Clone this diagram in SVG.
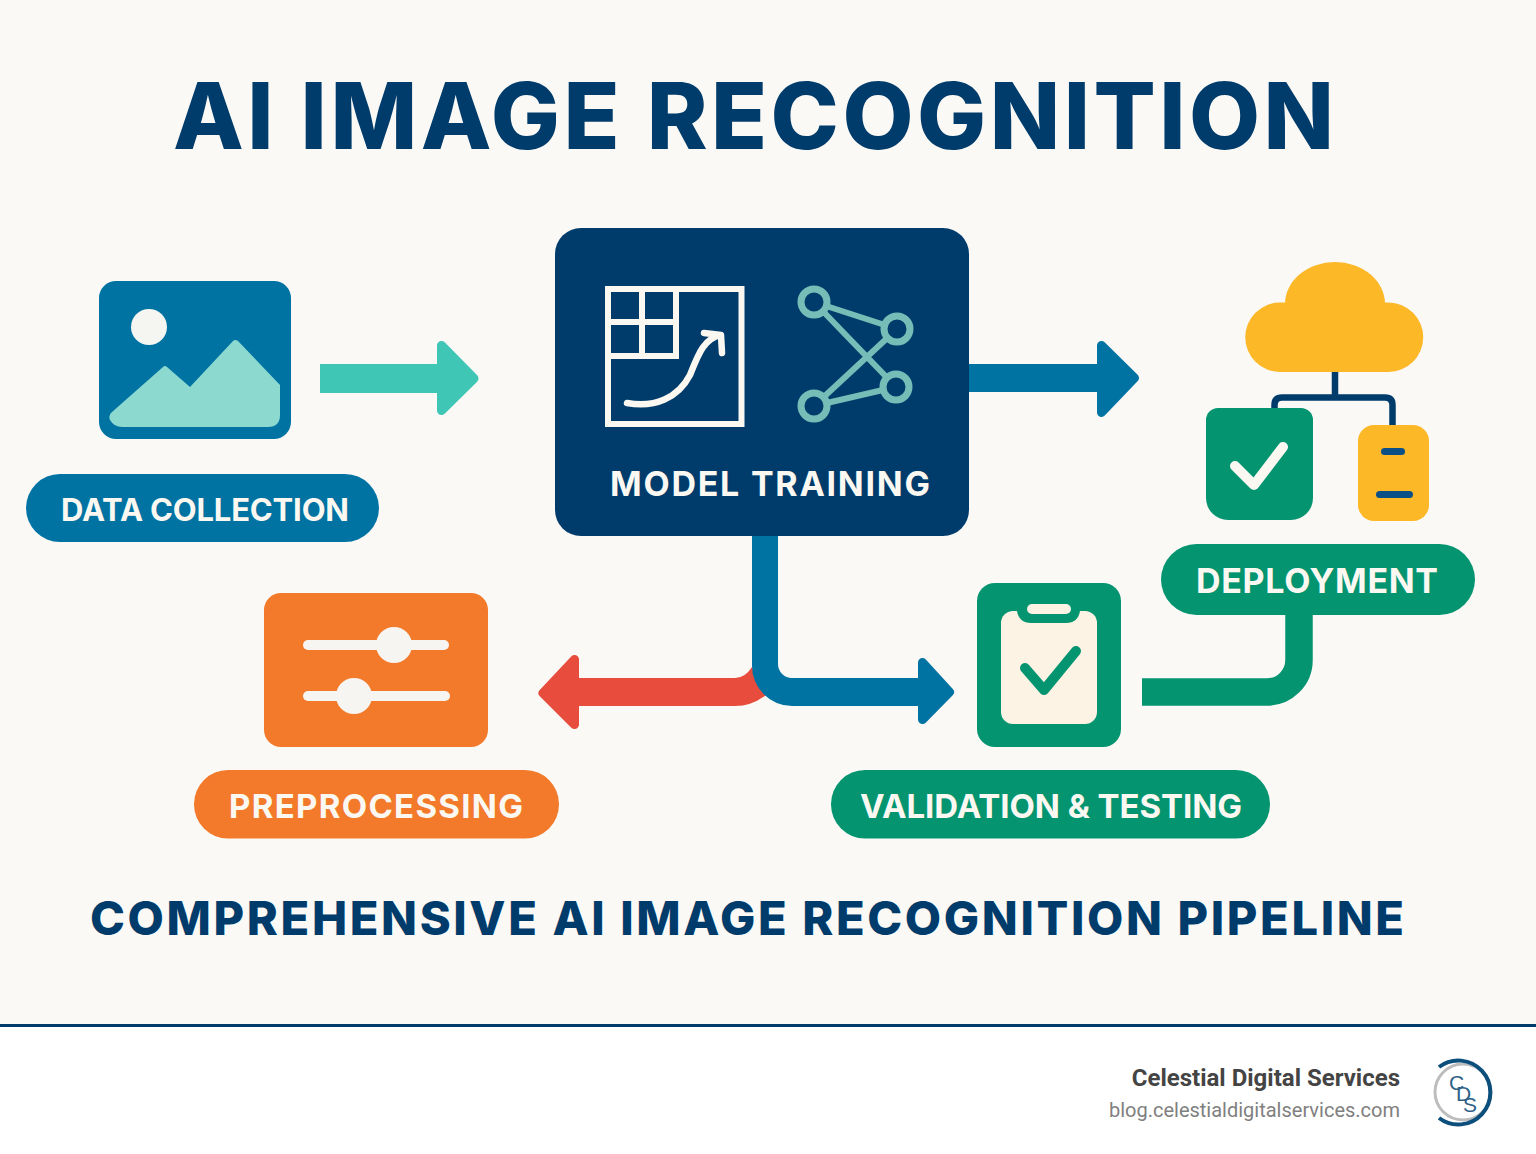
<svg xmlns="http://www.w3.org/2000/svg" width="1536" height="1154" viewBox="0 0 1536 1154">
<style>
text{font-family:"Inter","Liberation Sans",sans-serif}
.title{font-size:92px;font-weight:800;fill:#003c6b}
.sub{font-size:47px;font-weight:800;fill:#003c6b}
.pilltxt{font-size:31px;font-weight:700;fill:#fbf8f2}
.foot1{font-family:"Roboto","Liberation Sans",sans-serif;font-size:24px;font-weight:700;fill:#444}
.foot2{font-family:"Roboto","Liberation Sans",sans-serif;font-size:20px;fill:#808080}
.head{stroke-width:9;stroke-linejoin:round}
.blue{fill:#0173a3}.green{fill:#049470}.orange{fill:#f27a2a}.navy{fill:#003c6b}.yellow{fill:#fdb827}.cream{fill:#fbf8f2}
.wl{fill:none;stroke:#fbf8f2;stroke-width:6.500;stroke-linecap:round;stroke-linejoin:round}
.tl{fill:#003c6b;stroke:#76bdb7;stroke-width:7}
</style>
<rect width="1536" height="1154" fill="#faf9f6"/>
<rect y="1025" width="1536" height="129" fill="#fff"/>
<rect y="1024" width="1536" height="3" fill="#003c6b"/>
<text id="title" class="title" x="173" y="149" textLength="1161" lengthAdjust="spacing">AI IMAGE RECOGNITION</text>
<g id="connectors">
  <g id="c-data-model">
    <rect x="320" y="364" width="122" height="29" fill="#3fc6b4"/>
    <polygon class="head" points="441.500,345.500 474,378.500 441.500,410.500" fill="#3fc6b4" stroke="#3fc6b4"/>
  </g>
  <g id="c-model-deploy">
    <rect x="965" y="364" width="137" height="28" class="blue"/>
    <polygon class="head" points="1101.500,345.500 1134.500,378 1101.500,412.500" fill="#0173a3" stroke="#0173a3"/>
  </g>
  <g id="c-model-pre">
    <path d="M577 678H735Q745 678 752 667L766 695Q752 706 735 706H577Z" fill="#e74c3c"/>
    <polygon class="head" points="574.500,659.500 543,693 574.500,724.500" fill="#e74c3c" stroke="#e74c3c"/>
  </g>
  <g id="c-model-valid">
    <path d="M752 530V666A40 40 0 0 0 792 706H925V678H792A14 14 0 0 1 778 664V530Z" class="blue"/>
    <polygon class="head" points="922.500,662.500 949.500,692 922.500,719.500" fill="#0173a3" stroke="#0173a3"/>
  </g>
  <path id="c-valid-deploy" d="M1142 692H1267A32 32 0 0 0 1299 660V610" fill="none" stroke="#049470" stroke-width="27.500"/>
</g>
<g id="data-collection">
  <rect x="99" y="281" width="192" height="158" rx="17" class="blue"/>
  <circle cx="149" cy="327" r="18" fill="#f5f5f2"/>
  <path d="M112 412L163 367Q165 365 167 367L190 387L233 341Q235 339 238 341L280 385V415Q280 427 268 427H122Q114 427 110 420Q108 415 112 412Z" fill="#8cd9d0"/>
  <rect x="26" y="474" width="353" height="68" rx="34" class="blue"/>
  <text class="pilltxt" x="61" y="521" textLength="288" lengthAdjust="spacing">DATA COLLECTION</text>
</g>
<g id="model-training">
  <rect x="555" y="228" width="414" height="308" rx="26" class="navy"/>
  <rect x="608" y="289" width="133.500" height="135" fill="none" stroke="#fbf8f2" stroke-width="6"/>
  <path d="M642 289V356M676 289V356H608M608 322H676" fill="none" stroke="#fbf8f2" stroke-width="6"/>
  <path class="wl" d="M627 403C655 408 678 398 690 375C698 355 704 338 721 335M704 333L721 335L722 353"/>
  <path d="M814 302L897 329L814 406L896 387L814 302" fill="none" stroke="#76bdb7" stroke-width="6"/>
  <g class="tl"><circle cx="814" cy="302" r="13"/><circle cx="897" cy="329" r="13"/><circle cx="896" cy="387" r="13"/><circle cx="814" cy="406" r="13"/></g>
  <text class="pilltxt" x="610" y="496" textLength="320" lengthAdjust="spacing" style="font-size:34px">MODEL TRAINING</text>
</g>
<g id="deployment">
  <path d="M1335 372V397M1274.500 412V405Q1274.500 397.500 1282 397.500H1385Q1392.500 397.500 1392.500 405V428" fill="none" stroke="#003c6b" stroke-width="6.500"/>
  <path d="M1280 372A34.500 34.500 0 0 1 1280 302.500H1286A50.500 50.500 0 0 1 1384 302.500H1388.500A34.500 34.500 0 0 1 1388.500 372Z" class="yellow"/>
  <path d="M1285 304A50 42 0 0 1 1385 304Z" class="yellow"/>
  <path d="M1218 408H1301A12 12 0 0 1 1313 420V498A22 22 0 0 1 1291 520H1228A22 22 0 0 1 1206 498V420A12 12 0 0 1 1218 408Z" class="green"/>
  <path d="M1235 466L1254 485L1283 447" fill="none" stroke="#fbf8f2" stroke-width="10" stroke-linecap="round" stroke-linejoin="round"/>
  <rect x="1358" y="425" width="71" height="96" rx="16" class="yellow"/>
  <rect x="1381" y="448" width="24" height="7" rx="3.500" fill="#0a4f86"/>
  <rect x="1376" y="491" width="37" height="7" rx="3.500" fill="#0a4f86"/>
  <rect x="1161" y="544" width="314" height="71" rx="35.500" class="green"/>
  <text class="pilltxt" x="1196" y="593" textLength="242" lengthAdjust="spacing" style="font-size:34px">DEPLOYMENT</text>
</g>
<g id="preprocessing">
  <rect x="264" y="593" width="224" height="154" rx="17" class="orange"/>
  <rect x="303" y="640" width="146" height="10" rx="5" fill="#f7f5f1"/>
  <circle cx="394" cy="645" r="18" fill="#f7f5f1"/>
  <rect x="303" y="691" width="147" height="10" rx="5" fill="#f7f5f1"/>
  <circle cx="354" cy="696" r="18" fill="#f7f5f1"/>
  <rect x="194" y="770" width="365" height="68.500" rx="34" class="orange"/>
  <text class="pilltxt" x="229" y="818" textLength="294" lengthAdjust="spacing" style="font-size:33px">PREPROCESSING</text>
</g>
<g id="validation-testing">
  <rect x="977" y="583" width="144" height="164" rx="18" class="green"/>
  <rect x="1001" y="611" width="96" height="113" rx="12" fill="#fdf3e5"/>
  <path d="M1017 608H1080V611Q1078 623 1066 623H1031Q1019 623 1017 611Z" class="green"/>
  <rect x="1027" y="604" width="44" height="10" rx="5" fill="#fdf3e5"/>
  <path d="M1025 668L1044 690L1076 651" fill="none" stroke="#049470" stroke-width="10" stroke-linecap="round" stroke-linejoin="round"/>
  <rect x="831" y="770" width="439" height="68.500" rx="34" class="green"/>
  <text class="pilltxt" x="860" y="818" textLength="382" lengthAdjust="spacing" style="font-size:33px">VALIDATION &amp; TESTING</text>
</g>
<text id="subtitle" class="sub" x="90" y="935" textLength="1314" lengthAdjust="spacing">COMPREHENSIVE AI IMAGE RECOGNITION PIPELINE</text>
<g id="footer">
  <text class="foot1" x="1400" y="1086" text-anchor="end">Celestial Digital Services</text>
  <text class="foot2" x="1400" y="1117" text-anchor="end">blog.celestialdigitalservices.com</text>
  <g id="logo" fill="none">
    <circle cx="1463" cy="1092" r="28" stroke="#bdbdbd" stroke-width="3"/>
    <path d="M1439 1067A32 32 0 1 1 1439 1118" stroke="#0d4f7c" stroke-width="4"/>
    <text font-size="21" x="1449 1456 1463" y="1090 1101 1112" fill="#2f6187" style="font-family:'Liberation Sans',sans-serif">CDS</text>
  </g>
</g>
</svg>
